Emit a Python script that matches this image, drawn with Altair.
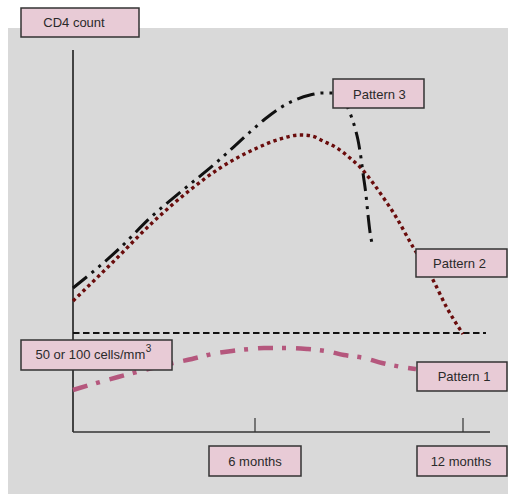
import altair as alt
import pandas as pd

# ---------------- data (months, relative CD4 count) ----------------
P3_MONTHS = [0.75, 2.106, 2.971, 3.923, 4.904, 5.856, 6.288, 6.721, 7.154, 7.587, 7.933, 8.25, 8.51,
             8.740, 8.885, 8.971, 9.058, 9.115, 9.202, 9.260, 9.317, 9.404]
P3_CD4 = [144, 184, 214, 242, 270, 300, 313, 324, 332, 337, 339, 339, 334,
          319, 304, 292, 274, 259, 237, 217, 200, 185]

P2_MONTHS = [0.75, 1.904, 3.058, 4.125, 4.990, 6.058, 6.721, 7.298, 7.644, 7.962, 8.365, 8.740,
             9.029, 9.404, 9.808, 9.981, 10.558, 11.106, 11.538, 12.0]
P2_CD4 = [131, 170, 210, 242, 264, 284, 293, 297, 296, 291, 284, 274,
          265, 249, 229, 220, 185, 154, 124, 98]

P1_MONTHS = [0.75, 1.529, 2.048, 2.596, 3.635, 4.183, 4.760, 5.337, 5.856, 6.260, 6.923, 7.500,
             8.048, 8.567, 9.144, 9.663, 10.240, 10.644]
P1_CD4 = [42, 50, 55, 60, 69, 73, 78, 81, 83, 84, 84, 83, 81, 77, 74, 69, 65, 63]

THRESHOLD = 99
TICK_MONTHS = [6, 12]
TICK_LABELS = ["6 months", "12 months"]
SERIES_LABELS = ["Pattern 1", "Pattern 2", "Pattern 3"]
Y_LABEL = "CD4 count"
THRESHOLD_LABEL = "50 or 100 cells/mm"
THRESHOLD_SUP = "3"

# ---------------- layout ----------------
W, H = 508, 494
XS = alt.Scale(domain=[-1.3558, 13.2981], nice=False, zero=False)
YS = alt.Scale(domain=[-62, 432], nice=False, zero=False)
AX_X0, AX_X1, AX_Y1 = 0.75, 12.779, 382
FONT = "Liberation Sans"
BOX_FILL = "#e8cbd6"
BOX_STROKE = "#333333"
TEXT_COLOR = "#2a2a2a"


def X(f):
    return alt.X(f, type="quantitative", scale=XS, axis=None)


def Y(f):
    return alt.Y(f, type="quantitative", scale=YS, axis=None)


bg = alt.Chart(pd.DataFrame({"x": [-1.125], "x2": [13.2981], "y": [404], "y2": [-62]})).mark_rect(
    color="#d9d9d9").encode(x=X("x"), x2="x2", y=Y("y"), y2="y2")

yaxis = alt.Chart(pd.DataFrame({"x": [AX_X0], "y": [0], "y2": [AX_Y1]})).mark_rule(
    color="#111111", strokeWidth=1.5).encode(x=X("x"), y=Y("y"), y2="y2")
xaxis = alt.Chart(pd.DataFrame({"x": [AX_X0], "x2": [AX_X1], "y": [0]})).mark_rule(
    color="#333333", strokeWidth=1.5).encode(x=X("x"), x2="x2", y=Y("y"))
ticks = alt.Chart(pd.DataFrame({"x": TICK_MONTHS, "y": [0, 0], "y2": [14, 14]})).mark_rule(
    color="#333333", strokeWidth=1.2).encode(x=X("x"), y=Y("y"), y2="y2")

thr = alt.Chart(pd.DataFrame({"x": [AX_X0], "x2": [12.663], "y": [THRESHOLD]})).mark_rule(
    color="#111111", strokeWidth=2, strokeDash=[6.5, 3.5]).encode(x=X("x"), x2="x2", y=Y("y"))


def curve(ms, vs, color, width, dash):
    df = pd.DataFrame({"m": ms, "v": vs, "i": range(len(ms))})
    return alt.Chart(df).mark_line(color=color, strokeWidth=width, strokeDash=dash,
                                   interpolate="monotone").encode(
        x=X("m"), y=Y("v"), order="i:Q")


p3 = curve(P3_MONTHS, P3_CD4, "#111111", 3, [18, 6, 3, 6, 3, 6])
p2 = curve(P2_MONTHS, P2_CD4, "#6a0c0c", 3.4, [3.4, 3.4])
p1 = curve(P1_MONTHS, P1_CD4, "#b5577d", 4.5, [15, 9, 4, 10])

# label boxes: (x, x2, y, y2, tx, ty) in data units
BOX_POS = [
    (-0.750, 2.654, 424, 395, 0.778, 409),      # CD4 count
    (8.250, 10.875, 353, 324, 9.590, 337),      # Pattern 3
    (10.644, 13.269, 183, 155, 11.899, 168),    # Pattern 2
    (10.673, 13.269, 70, 41, 12.029, 55),       # Pattern 1
    (-0.750, 3.606, 92, 62, 1.250, 77),         # threshold
    (4.673, 7.327, -14, -44, 6.000, -30),       # 6 months
    (10.673, 13.269, -14, -44, 11.942, -30),    # 12 months
]
BOX_TEXT = [Y_LABEL, SERIES_LABELS[2], SERIES_LABELS[1], SERIES_LABELS[0], THRESHOLD_LABEL,
            TICK_LABELS[0], TICK_LABELS[1]]
bdf = pd.DataFrame(BOX_POS, columns=["x", "x2", "y", "y2", "tx", "ty"])
bdf["label"] = BOX_TEXT

boxes = alt.Chart(bdf).mark_rect(fill=BOX_FILL, stroke=BOX_STROKE, strokeWidth=1.5).encode(
    x=X("x"), x2="x2", y=Y("y"), y2="y2")
texts = alt.Chart(bdf).mark_text(font=FONT, fontSize=13, color=TEXT_COLOR, align="center",
                                 baseline="middle").encode(
    x=X("tx"), y=Y("ty"), text="label:N")
sup = alt.Chart(pd.DataFrame({"tx": [2.85], "ty": [83], "label": [THRESHOLD_SUP]})).mark_text(
    font=FONT, fontSize=10, color=TEXT_COLOR, align="left", baseline="middle").encode(
    x=X("tx"), y=Y("ty"), text="label:N")

chart = alt.layer(bg, yaxis, xaxis, ticks, thr, p1, p2, p3, boxes, texts, sup).properties(
    width=W, height=H, autosize=alt.AutoSizeParams(type="none"), padding=0,
    background="white").configure_view(stroke=None)

chart.save("out.html", embed_options={"renderer": "svg", "actions": False})
